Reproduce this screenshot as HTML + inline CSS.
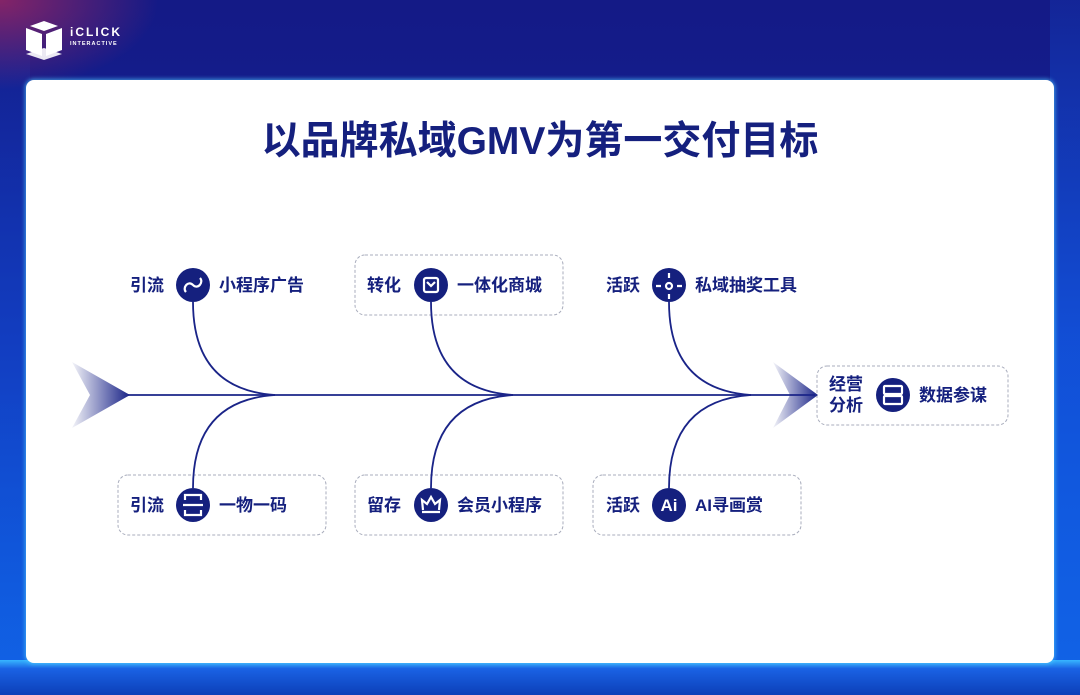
<!DOCTYPE html>
<html><head><meta charset="utf-8"><style>
html,body{margin:0;padding:0}
body{width:1080px;height:695px;overflow:hidden;position:relative;font-family:"Liberation Sans","Noto Sans CJK SC",sans-serif;
background:linear-gradient(180deg,#141a86 0%,#13239a 55%,#0a3fc0 100%);}
.glowl{position:absolute;left:0;top:0;width:30px;height:695px;background:linear-gradient(180deg,rgba(17,80,220,0) 0%,rgba(17,80,220,.6) 50%,#1163e6 100%);}
.glowr{position:absolute;right:0;top:0;width:30px;height:695px;background:linear-gradient(180deg,rgba(17,80,220,.2) 0%,rgba(17,90,230,.8) 50%,#1163e6 100%);}
.glowb{position:absolute;left:0;top:660px;width:1080px;height:35px;background:linear-gradient(180deg,#37b6ff 0%,#1a62e4 25%,#0c3fb8 100%);}
.redtl{position:absolute;left:0;top:0;width:160px;height:90px;background:radial-gradient(ellipse at 0 0,rgba(180,40,90,.7),rgba(180,40,90,0) 70%);}
.card{position:absolute;left:26px;top:80px;width:1028px;height:583px;background:#fff;border-radius:8px;box-shadow:0 0 4px 1px rgba(80,200,255,.7);}
.title{position:absolute;left:0;width:1080px;top:110px;text-align:center;font-size:39px;font-weight:bold;color:#15207e;}
.logo{position:absolute;left:24px;top:18px;color:#fff}
</style></head><body>
<div class="glowl"></div><div class="glowr"></div><div class="glowb"></div><div class="redtl"></div>
<div class="logo">
<svg width="110" height="44"><polygon points="6,8 20,3 34,8 20,13" fill="#fff"/><polygon points="2,10 18,16 18,38 2,32" fill="#fff"/><polygon points="38,10 22,16 22,38 38,32" fill="#fff"/><polygon points="2,36 20,42 38,36 20,30" fill="#fff" opacity=".9"/>
<text x="46" y="18" font-size="12" font-weight="bold" fill="#fff" font-family="Liberation Sans" letter-spacing="2">iCLICK</text>
<text x="46" y="27" font-size="5.5" font-weight="bold" fill="#fff" font-family="Liberation Sans" letter-spacing="1">INTERACTIVE</text></svg>
</div>
<div class="card"></div>
<div class="title">以品牌私域GMV为第一交付目标</div>
<svg width="1080" height="695" style="position:absolute;left:0;top:0" font-family="Liberation Sans, Noto Sans CJK SC, sans-serif">
<defs>
<linearGradient id="ag" x1="0" x2="1"><stop offset="0" stop-color="#1a2488" stop-opacity="0.05"/><stop offset="1" stop-color="#1a2488"/></linearGradient>
</defs>
<g fill="none" stroke="#a8acbc" stroke-width="1" stroke-dasharray="3,2">
<rect x="355" y="255" width="208" height="60" rx="10"/>
<rect x="118" y="475" width="208" height="60" rx="10"/>
<rect x="355" y="475" width="208" height="60" rx="10"/>
<rect x="593" y="475" width="208" height="60" rx="10"/>
<rect x="817" y="366" width="191" height="59" rx="10"/>
</g>
<polygon points="72,362 130,395 72,428 90,395" fill="url(#ag)"/>
<polygon points="773,362 818,395 773,428 790,395" fill="url(#ag)"/>
<line x1="128" y1="395" x2="815" y2="395" stroke="#1a2488" stroke-width="1.8"/>
<g fill="none" stroke="#1a2488" stroke-width="1.8">
<path d="M193,302 C193,370 230,392 275,395"/>
<path d="M193,488 C193,420 230,398 275,395"/>
<path d="M431,302 C431,370 468,392 513,395"/>
<path d="M431,488 C431,420 468,398 513,395"/>
<path d="M669,302 C669,370 706,392 751,395"/>
<path d="M669,488 C669,420 706,398 751,395"/>
</g>
<g fill="#15207e">
<circle cx="193" cy="285" r="17"/><circle cx="431" cy="285" r="17"/><circle cx="669" cy="285" r="17"/>
<circle cx="193" cy="505" r="17"/><circle cx="431" cy="505" r="17"/><circle cx="669" cy="505" r="17"/>
<circle cx="893" cy="395" r="17"/>
</g>
<g fill="none" stroke="#fff" stroke-width="2.2">
<path d="M186,292 C182,288 188,280 193,285 C198,290 204,282 200,278"/>
<rect x="424" y="278" width="14" height="14" rx="2"/><path d="M427,282 L431,286 L435,282"/>
<circle cx="669" cy="286" r="3"/><path d="M669,273 v5 M669,294 v5 M656,286 h5 M677,286 h5"/>
<path d="M185,500 v-5 h16 v5 M185,510 v5 h16 v-5 M183,505 h20"/>
<path d="M422,512 h18 M423,510 l-1,-10 l5,4 l4,-7 l4,7 l5,-4 l-1,10"/>
<rect x="884" y="386" width="18" height="8" rx="1"/><rect x="884" y="396" width="18" height="8" rx="1"/>
</g>
<text x="669" y="511" fill="#fff" font-size="17" font-weight="bold" text-anchor="middle">Ai</text>
<g fill="#15207e" font-size="17" font-weight="bold">
<text x="130" y="291">引流</text><text x="219" y="291">小程序广告</text>
<text x="367" y="291">转化</text><text x="457" y="291">一体化商城</text>
<text x="606" y="291">活跃</text><text x="695" y="291">私域抽奖工具</text>
<text x="130" y="511">引流</text><text x="219" y="511">一物一码</text>
<text x="367" y="511">留存</text><text x="457" y="511">会员小程序</text>
<text x="606" y="511">活跃</text><text x="695" y="511">AI寻画赏</text>
<text x="829" y="390">经营</text><text x="829" y="411">分析</text><text x="919" y="401">数据参谋</text>
</g>
</svg>
</body></html>
